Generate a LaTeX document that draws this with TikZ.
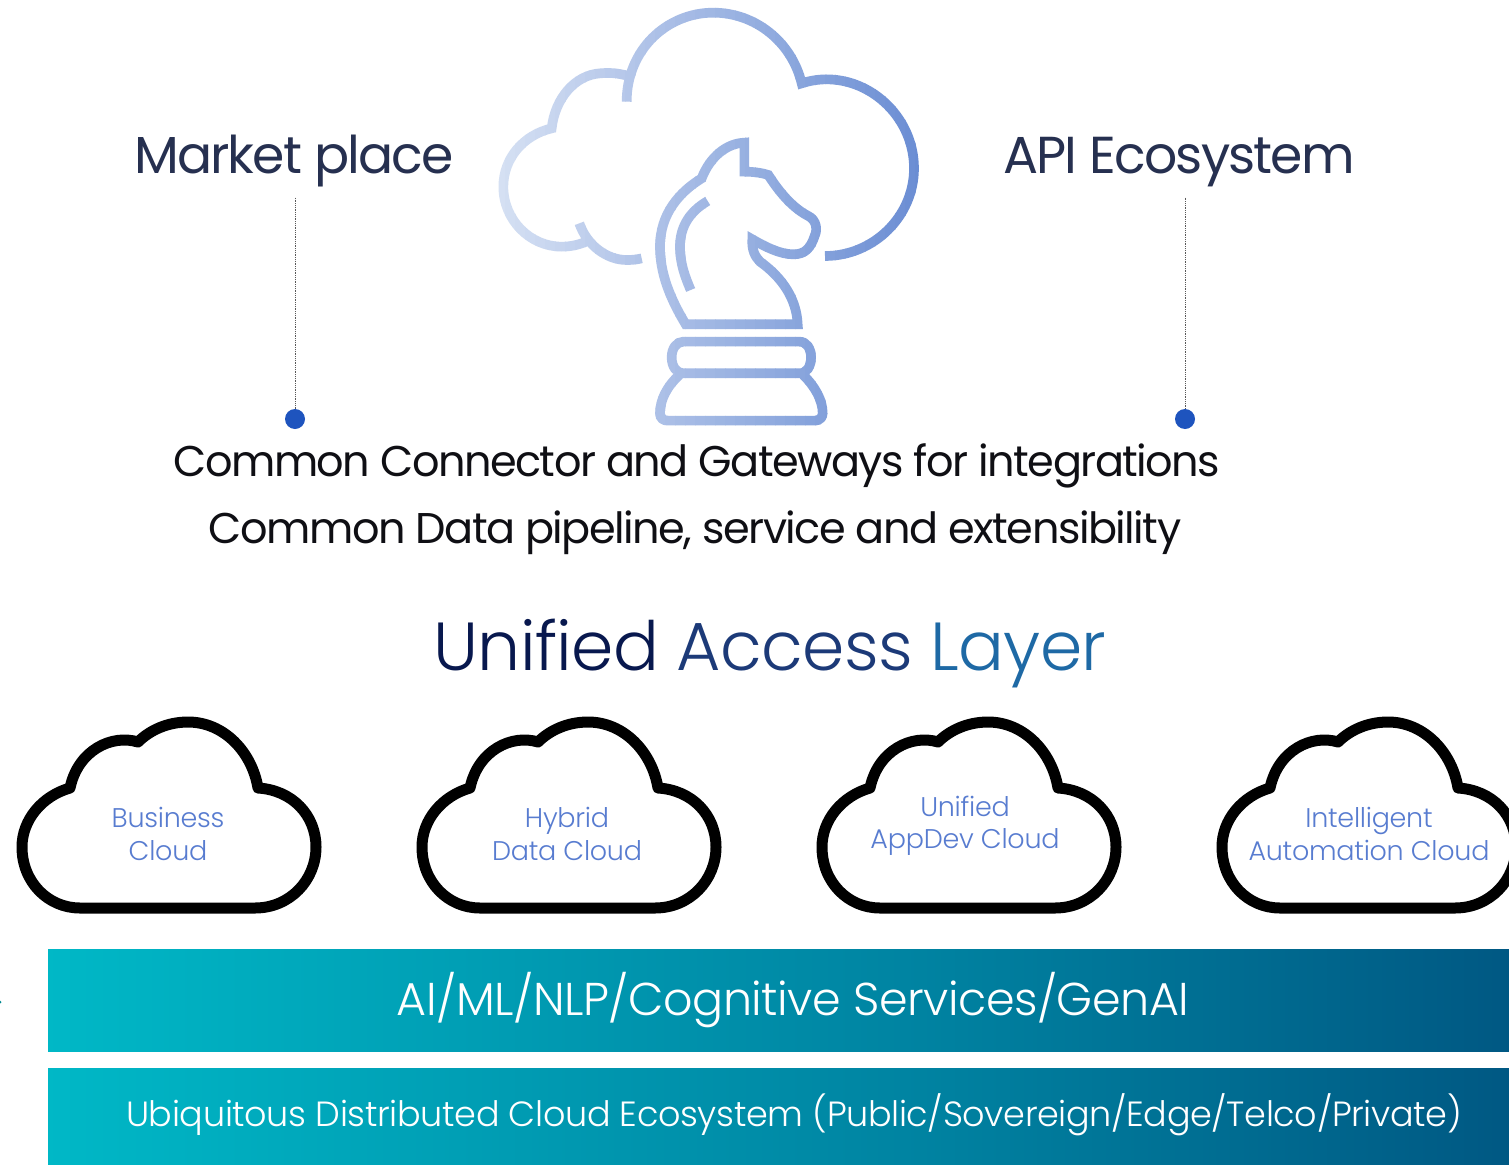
\documentclass[tikz,border=0pt]{standalone}
\usepackage{fontspec}
\setmainfont{Poppins}
\newfontfamily\tightfont[LetterSpace=-3.5]{Poppins}
\newfontfamily\thinfont[LetterSpace=-1]{Poppins Light}
\usetikzlibrary{arrows.meta, positioning, calc}
\definecolor{headnavy}{RGB}{38, 48, 80}
\definecolor{textblack}{RGB}{15, 15, 20}
\definecolor{cloudblue}{RGB}{88, 124, 208}
\definecolor{dotblue}{RGB}{30, 84, 190}
\definecolor{iconlight}{RGB}{213, 224, 243}
\definecolor{icondark}{RGB}{109, 143, 212}
\definecolor{bandteal}{RGB}{0, 196, 207}
\definecolor{bandnavy}{RGB}{0, 24, 86}
\definecolor{layernavy}{RGB}{8, 24, 78}
\definecolor{layermid}{RGB}{28, 58, 120}
\definecolor{layerblue}{RGB}{30, 105, 165}
\pgfdeclarehorizontalshading{bandshade}{100bp}{
  color(0bp)=(bandteal); color(22bp)=(bandteal!96!bandnavy);
  color(55bp)=(bandteal!62!bandnavy); color(85bp)=(bandteal!25!bandnavy);
  color(100bp)=(bandnavy)}
\newcommand{\sz}[1]{\fontsize{#1}{1.2\dimexpr#1pt\relax}\selectfont}
% icon outline, in its own 3x coordinates
\newcommand{\iconpaths}{
  (1035,768) .. controls (1180,768) and (1302,650) .. (1302,505)
    .. controls (1302,358) and (1180,238) .. (1040,238)
    .. controls (1015,238) and (990,242) .. (965,250)
    .. controls (935,125) and (825,38) .. (700,38)
    .. controls (560,38) and (440,150) .. (440,305)
  (445,228) .. controls (410,218) and (385,218) .. (360,220)
    .. controls (285,225) and (225,295) .. (215,385)
    .. controls (130,405) and (70,475) .. (70,560)
    .. controls (70,660) and (150,740) .. (245,740)
    .. controls (270,740) and (295,735) .. (318,725)
  (298,670) .. controls (320,735) and (380,780) .. (440,780)
    .. controls (455,780) and (470,779) .. (485,775)
  (617,973) .. controls (570,895) and (540,820) .. (540,740)
    .. controls (540,640) and (600,575) .. (665,535)
    .. controls (690,470) and (740,430) .. (793,428) -- (793,515)
    .. controls (825,515) and (850,520) .. (865,525)
    .. controls (900,580) and (940,625) .. (985,648)
    .. controls (1010,660) and (1012,690) .. (1005,705)
    .. controls (992,745) and (975,763) .. (940,763)
    .. controls (900,763) and (855,740) .. (817,718)
    .. controls (815,750) and (825,770) .. (840,785)
    .. controls (910,835) and (950,900) .. (953,973) -- cycle
  (683,603) .. controls (620,640) and (600,690) .. (600,740)
    .. controls (600,790) and (615,830) .. (632,870)
  (610,1025) -- (958,1025) .. controls (980,1025) and (993,1045) .. (993,1072)
    .. controls (993,1100) and (980,1120) .. (958,1120) -- (610,1120)
    .. controls (590,1120) and (575,1100) .. (575,1072)
    .. controls (575,1045) and (590,1025) .. (610,1025) -- cycle
  (598,1125) .. controls (560,1160) and (540,1200) .. (540,1240)
    .. controls (540,1255) and (550,1262) .. (565,1262) -- (1005,1262)
    .. controls (1020,1262) and (1028,1250) .. (1028,1240)
    .. controls (1028,1200) and (1005,1160) .. (970,1125)
}
\tikzset{
  headlabel/.style={anchor=base, inner ysep=11pt, text=headnavy, font=\tightfont\sz{52}},
  commonline/.style={anchor=base, inner sep=0pt, text=textblack, font=\tightfont\sz{43}},
  cloudlabel/.style={align=center, inner sep=0pt, text=cloudblue, font=\thinfont\sz{27}},
  banktext/.style={anchor=base, inner sep=0pt, text=white},
  banddot/.style={circle, fill=dotblue, minimum size=20pt, inner sep=0pt},
  leader/.style={draw=black!65, line width=.8pt, densely dotted},
  cloudline/.style={draw=black, line width=11pt, line join=round},
  bandbox/.style={shading=bandshade, draw=none}
}
\begin{document}
\begin{tikzpicture}[x=1pt, y=-1pt]
  \clip (0,0) rectangle (1509,1164);
  \fill[white] (0,0) rectangle (1509,1164);
  % icon
  \begin{scope}[shift={(480,0)}, x=.33333pt, y=-.33333pt]
    \foreach \s in {0,...,43} {
      \pgfmathsetmacro{\mixval}{100*\s/41}
      \begin{scope}
        \clip ({45+30*\s},0) rectangle ({45+30*\s+31.5},1300);
        \draw[line width=29pt*.33333, line join=miter, color=icondark!\mixval!iconlight] \iconpaths;
      \end{scope}
    }
  \end{scope}
  % top labels
  \node[headlabel] (market) at (294,173) {Market place};
  \node[headlabel] (api) at (1179,173) {API Ecosystem};
  \node[banddot] (marketdot) at (295,419) {};
  \node[banddot] (apidot) at (1185,419) {};
  \draw[leader] (marketdot |- market.south) -- (marketdot);
  \draw[leader] (apidot |- api.south) -- (apidot);
  \node[commonline] (connector) at (697,476) {Common Connector and Gateways for integrations};
  \node[commonline] (pipeline) at (695,543) {Common Data pipeline, service and extensibility};
  \node[anchor=base, inner sep=0pt, font=\thinfont\sz{68}] (access) at (770,670)
    {\textcolor{layernavy}{Unified} \textcolor{layermid}{Access} \textcolor{layerblue}{Layer}};
  % clouds
  \foreach \cx/\cname in {0/business, 400/hybrid, 800/appdev, 1200/automation} {
    \begin{scope}[xshift=\cx pt]
      \draw[cloudline] (80,908) -- (255,908) .. controls (290,908) and (316,880) .. (316,847)
        .. controls (316,815) and (292,790) .. (258,788)
        .. controls (252,752) and (224,722) .. (188,722)
        .. controls (168,722) and (150,730) .. (138,742)
        .. controls (112,734) and (78,750) .. (70,788)
        .. controls (42,796) and (22,820) .. (22,847)
        .. controls (22,882) and (48,908) .. (80,908) -- cycle;
    \end{scope}
  }
  \node[cloudlabel] (business) at (168,834) {Business\\Cloud};
  \node[cloudlabel] (hybrid) at (567,834) {Hybrid\\Data Cloud};
  \node[cloudlabel] (appdev) at (965,826) {Unified\\AppDev Cloud};
  \node[cloudlabel] (automation) at (1369,834) {Intelligent\\Automation Cloud};
  % bands
  \path[bandbox] (48,949) rectangle (1509,1051);
  \path[bandbox] (48,1068) rectangle (1509,1164);
  \node[banktext, font=\thinfont\sz{46}] (genai) at (793,1015) {AI/ML/NLP/Cognitive Services/GenAI};
  \node[banktext, font=\thinfont\sz{35}] (ecosystem) at (794,1126) {Ubiquitous Distributed Cloud Ecosystem (Public/Sovereign/Edge/Telco/Private)};
  \fill[bandteal!70!black] (0,1002) circle (1.5pt);
\end{tikzpicture}
\end{document}
